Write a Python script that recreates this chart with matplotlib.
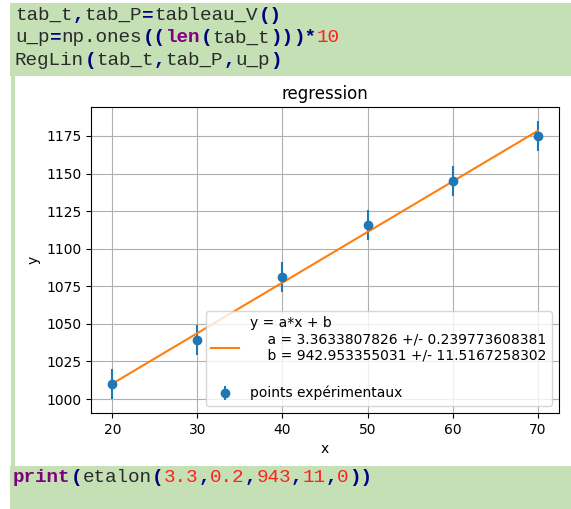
import numpy as np
import matplotlib
matplotlib.use('Agg')
from matplotlib import pyplot as plt
from matplotlib.patches import Rectangle

# measured points
tab_t = [20, 30, 40, 50, 60, 70]
tab_P = [1010, 1039, 1081, 1116, 1145, 1175]
u_p = [10, 10, 10, 10, 10, 10]

# fit values as printed in the legend
a, u_a = 3.3633807826, 0.239773608381
b, u_b = 942.953355031, 11.5167258302

fit_label = ('y = a*x + b\n    a = ' + str(a) + ' +/- ' + str(u_a)
             + '\n    b = ' + str(b) + ' +/- ' + str(u_b) + '\n')
points_label = 'points expérimentaux'

# code cells: (text, kind) with n=normal, o=operator, k=keyword, d=number
code_top = [
    [('tab_t', 'n'), (',', 'o'), ('tab_P', 'n'), ('=', 'o'), ('tableau_V', 'n'), ('()', 'o')],
    [('u_p', 'n'), ('=', 'o'), ('np.ones', 'n'), ('((', 'o'), ('len', 'k'), ('(', 'o'),
     ('tab_t', 'n'), ('))', 'o'), (')*', 'o'), ('10', 'd')],
    [('RegLin', 'n'), ('(', 'o'), ('tab_t', 'n'), (',', 'o'), ('tab_P', 'n'), (',', 'o'),
     ('u_p', 'n'), (')', 'o')],
]
code_bottom = [
    [('print', 'k'), ('(', 'o'), ('etalon', 'n'), ('(', 'o'), ('3.3', 'd'), (',', 'o'),
     ('0.2', 'd'), (',', 'o'), ('943', 'd'), (',', 'o'), ('11', 'd'), (',', 'o'),
     ('0', 'd'), ('))', 'o')],
]

W, H = 571, 509
green = '#c5e0b4'
styles = {'n': ('#2a2a2a', 'normal'), 'o': ('#000080', 'bold'),
          'k': ('#800080', 'bold'), 'd': ('#ff2020', 'normal')}
code_fs = 13.9
adv = 0.6 * code_fs * 100 / 72


def box(fig, x0, y0, x1, y1):
    # pixel box, y measured from the top
    fig.add_artist(Rectangle((x0 / W, 1 - y1 / H), (x1 - x0) / W, (y1 - y0) / H,
                             transform=fig.transFigure, color=green, lw=0, zorder=0))


def code_line(fig, tokens, x0, base):
    col = 0
    for txt, kind in tokens:
        c, w = styles[kind]
        fig.text((x0 + col * adv) / W, 1 - base / H, txt, color=c, fontweight=w,
                 family='Liberation Mono', fontsize=code_fs, va='baseline', ha='left')
        col += len(txt)


fig = plt.figure(figsize=(W / 100, H / 100), dpi=100)
box(fig, 10, 3, W, 76)
box(fig, 11, 76, 15, 466)
box(fig, 10, 466, W, H)

for i, line in enumerate(code_top):
    code_line(fig, line, 15, 20 + i * 22.5)
code_line(fig, code_bottom[0], 13, 482)

ax = fig.add_axes([91 / W, 1 - 413 / H, 468 / W, 306 / H])
x = np.array(tab_t)
ax.errorbar(tab_t, tab_P, yerr=u_p, fmt='o', label=points_label)
ax.plot(x, a * x + b, color='C1', label=fit_label)
ax.grid(True)
ax.set_title('regression')
ax.set_xlabel('x')
ax.set_ylabel('y')
h, l = ax.get_legend_handles_labels()
order = [l.index(fit_label), l.index(points_label)]
ax.legend([h[i] for i in order], [l[i] for i in order], loc='lower right')

fig.savefig('out.png', dpi=100)
